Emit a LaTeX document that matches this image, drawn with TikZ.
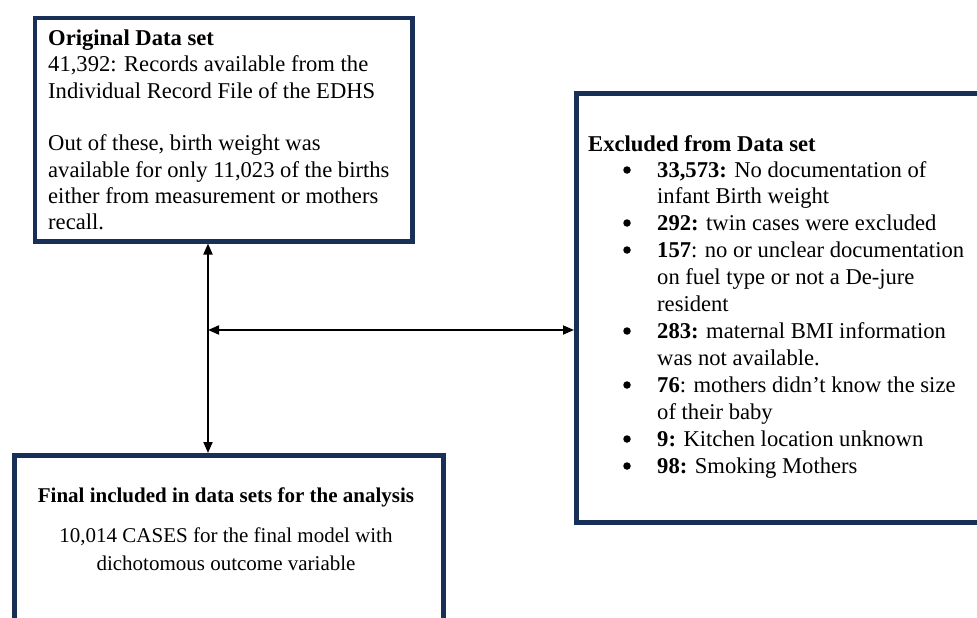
\documentclass[tikz,border=0pt]{standalone}
\usepackage{fontspec}
\setmainfont{Liberation Serif}
\usetikzlibrary{arrows.meta}
\definecolor{boxblue}{RGB}{24,48,88}
\begin{document}
\begin{tikzpicture}[x=1pt,y=-1pt,
  box/.style={draw=boxblue, line width=4.5pt, fill=white, inner sep=0pt, anchor=north west},
  link/.style={line width=1.8pt, {Triangle[length=11pt,width=9pt]}-{Triangle[length=11pt,width=9pt]}},
  txt/.style={anchor=base west, inner sep=0pt, font=\fontsize{22.6}{26}\selectfont},
  txtb/.style={anchor=base west, inner sep=0pt, font=\fontsize{22.6}{26}\selectfont},
  txtc/.style={anchor=base, inner sep=0pt, font=\fontsize{21}{25}\selectfont},
  bul/.style={circle, fill=black, inner sep=0pt, minimum size=7.5pt}]
\useasboundingbox (0,0) rectangle (977,618);
\begin{scope}
\clip (0,0) rectangle (977,618);
\node[box, minimum width=377.5pt, minimum height=223pt] (orig) at (32.5,16) {};
\node[box, minimum width=436pt, minimum height=429pt] (excl) at (574,91) {};
\node[box, minimum width=429pt, minimum height=210pt] (final) at (12,453) {};
\end{scope}
% box 1 text
\node[txt] (o1) at (48,46) {\textbf{Original Data set}};
\node[txt] (o2) at (48,72) {41,392: Records available from the};
\node[txt] (o3) at (48,98) {Individual Record File of the EDHS};
\node[txt] (o4) at (48,150) {Out of these, birth weight was};
\node[txt] (o5) at (48,177) {available for only 11,023 of the births};
\node[txt] (o6) at (48,203) {either from measurement or mothers};
\node[txt] (o7) at (48,229) {recall.};
% box 2 text
\node[txtb] (e0) at (588,151) {\textbf{Excluded from Data set}};
\foreach \y/\t [count=\i] in {
  177/{\textbf{33,573:} No documentation of},
  203/{infant Birth weight},
  230/{\textbf{292:} twin cases were excluded},
  257/{\textbf{157}: no or unclear documentation},
  284/{on fuel type or not a De-jure},
  311/{resident},
  338/{\textbf{283:} maternal BMI information},
  365/{was not available.},
  392/{\textbf{76}: mothers didn’t know the size},
  419/{of their baby},
  446/{\textbf{9:} Kitchen location unknown},
  473/{\textbf{98:} Smoking Mothers}}
  {\node[txtb] (e\i) at (657,\y) {\t};}
\foreach \y [count=\i] in {177,230,257,338,392,446,473}
  {\node[bul] (b\i) at (627,\y-7) {};}
% box 3 text
\node[txtc] (f1) at (226,502) {\textbf{Final included in data sets for the analysis}};
\node[txtc] (f2) at (226,542) {10,014 CASES for the final model with};
\node[txtc] (f3) at (226,570) {dichotomous outcome variable};
% connectors
\coordinate (v) at (208,0);
\coordinate (h) at (208,330);
\draw[link] (orig.south -| v) -- (final.north -| v);
\draw[link] (h) -- (excl.west |- h);
\end{tikzpicture}
\end{document}
